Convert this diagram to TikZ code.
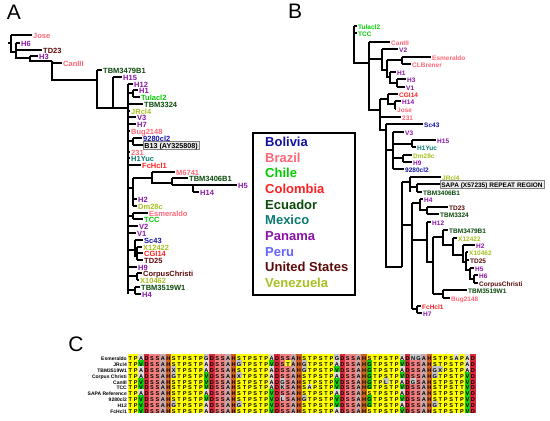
\documentclass[tikz,border=0pt]{standalone}
\usepackage{fontspec}
\setmainfont{Liberation Sans}
\definecolor{bolivia}{HTML}{1212A0}
\definecolor{brazil}{HTML}{FF6677}
\definecolor{chile}{HTML}{00CC00}
\definecolor{colombia}{HTML}{FF2222}
\definecolor{ecuador}{HTML}{0B4A0B}
\definecolor{mexico}{HTML}{0A7A72}
\definecolor{panama}{HTML}{8A14A8}
\definecolor{peru}{HTML}{6464FF}
\definecolor{usa}{HTML}{5C0A0A}
\definecolor{venezuela}{HTML}{A8C020}
\definecolor{alnyel}{HTML}{FFFF00}
\definecolor{alnsalmon}{HTML}{F08080}
\definecolor{alnred}{HTML}{DC2A3C}
\definecolor{alnorange}{HTML}{D2601E}
\definecolor{alngreen}{HTML}{10CC10}
\definecolor{alngrey}{HTML}{C4C4C4}
\definecolor{alnlight}{HTML}{DCDCDC}
\definecolor{alnpink}{HTML}{C8A8A8}
\tikzset{
  branch/.style={line width=1.2bp},
  spine/.style={line width=2.4bp},
  taxa/.style={anchor=west, inner xsep=1bp, inner ysep=0pt, text height=0.7em, text depth=0pt,
    font=\fontsize{7.5bp}{7.5bp}\selectfont\bfseries},
  taxb/.style={taxa, font=\fontsize{6.5bp}{6.5bp}\selectfont\bfseries},
  taxbox/.style={draw=gray, fill=gray!15, inner xsep=1.2bp, inner ysep=0.6bp},
  country/.style={anchor=west, inner sep=0pt, text height=0.72em, text depth=0pt,
    font=\fontsize{13bp}{13bp}\selectfont\bfseries},
  panel/.style={inner sep=0pt, text height=0.72em, text depth=0pt, font=\fontsize{21bp}{21bp}\selectfont},
  alnlabel/.style={anchor=east, inner sep=0.5bp, text height=0.7em, text depth=0pt,
    font=\fontsize{5bp}{5bp}\selectfont\bfseries},
  alnchar/.style={inner sep=0pt, text height=0.7em, text depth=0pt,
    font=\fontsize{5.6bp}{5.6bp}\selectfont\bfseries},
}
% leaf: style, name, x start, x end, y, colour, text
\newcommand{\taxon}[7]{%
  \node[#1, text=#6] (#2) at (#4,#5) {#7};
  \draw[branch] (#3,#5) -- (#2.west);
}
% alignment
\newcommand{\alncell}[1]{%
  \pgfmathtruncatemacro\alnu{mod(\alncol,12)}%
  \def\alnfill{alngrey}%
  \if T#1\def\alnfill{alnyel}\fi
  \if P#1\def\alnfill{alnyel}\fi
  \if V#1\def\alnfill{alngreen}\fi
  \if D#1\def\alnfill{alnred}\fi
  \if H#1\def\alnfill{alnorange}\fi
  \if S#1\ifnum\alnu<6 \def\alnfill{alnsalmon}\else\def\alnfill{alnyel}\fi\fi
  \if A#1\ifnum\alnu=6 \def\alnfill{alnpink}\else\def\alnfill{alnlight}\fi\fi
  \if G#1\ifnum\alncol=44 \def\alnfill{alngreen}\fi\fi
  \fill[\alnfill] ({127.5+5.44*\alncol},{354+5.9*\alnrowno}) rectangle ++(5.44,5.9);
  \node[alnchar] (c\alnrowno-\alncol) at ({127.5+5.44*(\alncol+0.5)},{354+5.9*(\alnrowno+0.5)}) {#1};
}
\def\alnscan#1{%
  \ifx\relax#1\else
    \alncell{#1}%
    \pgfmathtruncatemacro\alncol{\alncol+1}%
    \expandafter\alnscan
  \fi}
\newcommand{\alnrow}[3]{%
  \node[alnlabel] (row#1) at (127.5,{357+5.9*#1}) {#2};
  \def\alncol{0}%
  \def\alnrowno{#1}%
  \alnscan#3\relax
}

\begin{document}
\begin{tikzpicture}[x=1bp, y=-1bp]
\useasboundingbox (0,0) rectangle (550,420);
\fill[white] (0,0) rectangle (550,420);

\node[panel] (panA) at (14,16) {A};
\node[panel] (panB) at (295,15) {B};
\node[panel] (panC) at (76,348) {C};

% ---- tree A
\draw[branch] (8,43) -- (11,43);
\draw[branch] (11,35) -- (11,52) -- (16,52);
\draw[branch] (16,43) -- (16,58) -- (30,58);
\draw[branch] (30,56) -- (30,61) -- (52,61);
\draw[branch] (52,61) -- (52,80) -- (97,80);
\draw[branch] (97,70) -- (97,108) -- (128,108);
\draw[branch] (113,77) -- (113,108);
\draw[spine] (128,84) -- (128,294);
\draw[branch] (128,93) -- (133,93) (133,90) -- (133,97);
\draw[branch] (128,141) -- (133,141) (133,138) -- (133,145);
\draw[branch] (128,188) -- (133,188) (133,178) -- (133,206);
\draw[branch] (133,178) -- (152,178) (152,172) -- (152,183) -- (172,183);
\draw[branch] (172,178) -- (172,185) (193,185) -- (193,192);
\draw[branch] (128,216) -- (133,216) (133,213) -- (133,219);
\draw[branch] (128,250) -- (135,250) (135,240) -- (135,256) -- (137,256) (137,247) -- (137,260);
\draw[branch] (128,276) -- (137,276) (137,273) -- (137,280);
\draw[branch] (128,290) -- (135,290) (135,287) -- (135,294);

\taxon{taxa}{aJose}{11}{32}{35}{brazil}{Jose}
\taxon{taxa}{aH6}{16}{20}{43}{panama}{H6}
\taxon{taxa}{aTD23}{16}{42}{50}{usa}{TD23}
\taxon{taxa}{aH3}{30}{38}{56}{panama}{H3}
\taxon{taxa}{aCanIII}{52}{62}{63}{brazil}{CanIII}
\taxon{taxa}{aTBMa}{97}{102}{70}{ecuador}{TBM3479B1}
\taxon{taxa}{aH15}{113}{122}{77}{panama}{H15}
\taxon{taxa}{aH12}{128}{133}{84}{panama}{H12}
\taxon{taxa}{aH1}{133}{138}{90}{panama}{H1}
\taxon{taxa}{aTula}{133}{140}{97}{chile}{Tulacl2}
\taxon{taxa}{aTBMb}{128}{143}{104}{ecuador}{TBM3324}
\taxon{taxa}{aJRcl}{128}{130}{111}{venezuela}{JRcl4}
\taxon{taxa}{aV3}{128}{136}{117}{panama}{V3}
\taxon{taxa}{aH7}{128}{136}{124}{panama}{H7}
\taxon{taxa}{aBug}{128}{130}{131}{brazil}{Bug2148}
\taxon{taxa}{aCl}{133}{142}{138}{bolivia}{9280cl2}
\taxon{taxa,taxbox,font=\fontsize{7.2bp}{7.2bp}\selectfont\bfseries}{aB13}{133}{143}{145}{black}{B13 (AY325808)}
\taxon{taxa}{aTwo}{128}{130}{152}{brazil}{231}
\taxon{taxa}{aYuc}{128}{130}{158}{mexico}{H1Yuc}
\taxon{taxa}{aFc}{128}{141}{165}{colombia}{FcHcl1}
\taxon{taxa}{aM}{152}{175}{172}{brazil}{M6741}
\taxon{taxa}{aTBMc}{172}{188}{178}{ecuador}{TBM3406B1}
\taxon{taxa}{aH5}{172}{237}{185}{panama}{H5}
\taxon{taxa}{aH14}{193}{199}{192}{panama}{H14}
\taxon{taxa}{aH2}{133}{137}{199}{panama}{H2}
\taxon{taxa}{aDm}{133}{137}{206}{venezuela}{Dm28c}
\taxon{taxa}{aEsm}{133}{148}{213}{brazil}{Esmeraldo}
\taxon{taxa}{aTCC}{133}{143}{219}{chile}{TCC}
\taxon{taxa}{aV2}{128}{138}{226}{panama}{V2}
\taxon{taxa}{aV1}{128}{136}{233}{panama}{V1}
\taxon{taxa}{aSc}{135}{143}{240}{bolivia}{Sc43}
\taxon{taxa}{aXa}{137}{142}{247}{venezuela}{X12422}
\taxon{taxa}{aCGI}{137}{143}{253}{colombia}{CGI14}
\taxon{taxa}{aTD25}{137}{143}{260}{usa}{TD25}
\taxon{taxa}{aH9}{128}{137}{267}{panama}{H9}
\taxon{taxa}{aCC}{137}{142}{273}{usa}{CorpusChristi}
\taxon{taxa}{aXb}{137}{139}{280}{venezuela}{X10462}
\taxon{taxa}{aTBMd}{135}{140}{287}{ecuador}{TBM3519W1}
\taxon{taxa}{aH4}{135}{141}{294}{panama}{H4}

% ---- tree B
\draw[spine] (354,26) -- (354,42);
\draw[branch] (354,26) -- (354,63) -- (369,63);
\draw[branch] (369,42) -- (369,110) -- (380,110);
\draw[branch] (369,59) -- (382,59) (382,49) -- (382,70) -- (387,70);
\draw[branch] (387,60) -- (387,77) -- (390,77) (387,60) -- (402,60) (402,57) -- (402,64);
\draw[branch] (390,72) -- (390,83) -- (397,83) (397,79) -- (397,87);
\draw[spine] (380,112) -- (380,130);
\draw[branch] (380,99) -- (380,130) -- (386,130) (380,99) -- (388,99);
\draw[branch] (388,94) -- (388,104) -- (395,104) (395,101) -- (395,109);
\draw[branch] (386,124) -- (386,267) -- (402,267);
\draw[branch] (386,150) -- (393,150) (393,132) -- (393,169);
\draw[branch] (393,144) -- (412,144) (412,140) -- (412,147);
\draw[branch] (393,158) -- (403,158) (403,155) -- (403,162);
\draw[branch] (402,182) -- (402,267) (402,182) -- (410,182) (402,225) -- (412,225);
\draw[branch] (410,177) -- (410,192) (410,187) -- (417,187) (417,184) -- (417,192);
\draw[branch] (412,203) -- (412,309) (412,203) -- (420,203) (420,199) -- (420,210) -- (427,210) (427,207) -- (427,214);
\draw[branch] (412,240) -- (427,240) (427,222) -- (427,262) -- (433,262);
\draw[branch] (433,237) -- (433,294) (433,237) -- (443,237) (433,294) -- (443,294);
\draw[branch] (443,230) -- (443,245) -- (453,245) (453,238) -- (453,255) -- (463,255);
\draw[branch] (463,245) -- (463,262) -- (466,262) (466,252) -- (466,270) -- (470,270);
\draw[branch] (470,268) -- (470,279) -- (474,279) (474,275) -- (474,283);
\draw[branch] (443,290) -- (443,298);
\draw[branch] (412,309) -- (417,309) (417,306) -- (417,313);

\taxon{taxb}{bTula}{354}{357}{26}{chile}{Tulacl2}
\taxon{taxb}{bTCC}{354}{357}{33}{chile}{TCC}
\taxon{taxb}{bCanIII}{369}{390}{42}{brazil}{CanIII}
\taxon{taxb}{bV2}{382}{398}{49}{panama}{V2}
\taxon{taxb}{bEsm}{402}{431}{57}{brazil}{Esmeraldo}
\taxon{taxb}{bCLB}{402}{411}{64}{brazil}{CLBrener}
\taxon{taxb}{bH1}{390}{396}{72}{panama}{H1}
\taxon{taxb}{bH3}{397}{406}{79}{panama}{H3}
\taxon{taxb}{bV1}{397}{405}{87}{panama}{V1}
\taxon{taxb}{bCGI}{388}{398}{94}{colombia}{CGI14}
\taxon{taxb}{bH14}{395}{401}{101}{panama}{H14}
\taxon{taxb}{bJose}{395}{396}{109}{brazil}{Jose}
\taxon{taxb}{bTwo}{380}{401}{117}{brazil}{231}
\taxon{taxb}{bSc}{386}{423}{124}{bolivia}{Sc43}
\taxon{taxb}{bV3}{393}{404}{132}{panama}{V3}
\taxon{taxb}{bH15}{412}{436}{140}{panama}{H15}
\taxon{taxb}{bYuc}{412}{416}{147}{mexico}{H1Yuc}
\taxon{taxb}{bDm}{403}{412}{155}{venezuela}{Dm28c}
\taxon{taxb}{bH9}{403}{412}{162}{panama}{H9}
\taxon{taxb}{bCl}{393}{404}{169}{bolivia}{9280cl2}
\taxon{taxb}{bJRcl}{410}{441}{177}{venezuela}{JRcl4}
\taxon{taxb,taxbox}{bSAPA}{417}{440}{184}{black}{SAPA (X57235) REPEAT REGION}
\taxon{taxb}{bTBMc}{417}{422}{192}{ecuador}{TBM3406B1}
\taxon{taxb}{bH4}{420}{423}{199}{panama}{H4}
\taxon{taxb}{bTD23}{427}{448}{207}{usa}{TD23}
\taxon{taxb}{bTBMb}{427}{439}{214}{ecuador}{TBM3324}
\taxon{taxb}{bH12}{427}{431}{222}{panama}{H12}
\taxon{taxb}{bTBMa}{443}{448}{230}{ecuador}{TBM3479B1}
\taxon{taxb}{bXa}{453}{457}{238}{venezuela}{X12422}
\taxon{taxb}{bH2}{463}{475}{245}{panama}{H2}
\taxon{taxb}{bXb}{466}{468}{252}{venezuela}{X10462}
\taxon{taxb}{bTD25}{466}{469}{260}{usa}{TD25}
\taxon{taxb}{bH5}{470}{474}{268}{panama}{H5}
\taxon{taxb}{bH6}{474}{478}{275}{panama}{H6}
\taxon{taxb}{bCC}{474}{478}{283}{usa}{CorpusChristi}
\taxon{taxb}{bTBMd}{443}{467}{290}{ecuador}{TBM3519W1}
\taxon{taxb}{bBug}{443}{450}{298}{brazil}{Bug2148}
\taxon{taxb}{bFc}{417}{421}{306}{colombia}{FcHcl1}
\taxon{taxb}{bH7}{417}{422}{313}{panama}{H7}

% ---- legend
\draw[line width=1.5bp] (253,133) rectangle (355,295);
\foreach \cname/\ccol [count=\i from 0] in {Bolivia/bolivia, Brazil/brazil, Chile/chile,
    Colombia/colombia, Ecuador/ecuador, Mexico/mexico, Panama/panama, Peru/peru,
    United States/usa, Venezuela/venezuela}
  \node[country, text=\ccol] (leg\i) at (265,{143+15.67*\i}) {\cname};

% ---- alignment
\alnrow{0}{Esmeraldo}{TPADSSAHSTPSTPGDSSAHSTPSTPADSSAHSTPSTPGDSSAHSTPSTPADNGAHSTPSAPAD}
\alnrow{1}{JRcl4}{TPVDSSAHSTPSTPADSSAHGTPSTPVDSTAHGTPSTPADSSAHGTPSTPVDSSAHSTPSTPAD}
\alnrow{2}{TBM3519W1}{TPADSSAHXTPSTPADSSAHSTPSTPADSSAHGTPSTPVDSSAHGTPSTPADSSAHGXPSTPAD}
\alnrow{3}{Corpus Christi}{TPADSSAHGTPSTPVDSSAHXTPSTPADSSAHSTPSTPADSSAHGTPSTPVDSSAHGTPSTPVD}
\alnrow{4}{CanIII}{TPVDSSAHSTPSTPVDSSAHSTPSTPADGSAHSTPSTPVDSSAHGTPLTPADGSAHSTPSTPVD}
\alnrow{5}{TCC}{TPVDSSAHSTPSTPVDSSAHSTPSTPADKSAHSAPSTPVDSSAHGTPSTPVDSSAHSTPSTTVD}
\alnrow{6}{SAPA Reference}{TPADSSAHSTPSTPADSSAHSTPSTPVDSSAHSTPSTPADSSAHSTPSTPADSSAHSTPSTPVD}
\alnrow{7}{9280cl2}{TPVDSSAHSTPSTPVDSSAHSTPSTPVDLSAHGTPSTPVDSSAHGTPSTPVDSSAHSTPSTPVD}
\alnrow{8}{H12}{TPVDSSAHGTPSTPADSSAHGTPSTPVDSSAHSTPSTPVDSSAHGTPSTPADSSAHGTPSTPVD}
\alnrow{9}{FcHcl1}{TPVDSSAHSTPSTPADSSAHSTPSTPVDSSAHSTPSTPADSSAHSTPSTPVDSSAHSTPSTPVD}
\end{tikzpicture}
\end{document}
